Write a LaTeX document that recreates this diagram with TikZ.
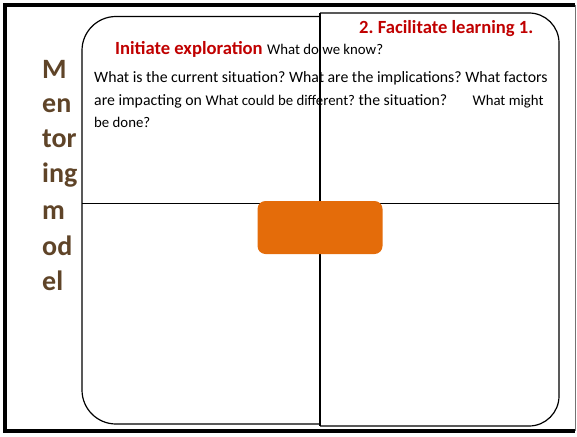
\documentclass[tikz,border=0pt]{standalone}
\usepackage{fontspec}
\setmainfont{Carlito}
\frenchspacing
\definecolor{titlered}{HTML}{C00000}
\definecolor{modelbrown}{HTML}{5F4428}
\definecolor{hub}{HTML}{E46C0A}
\begin{document}
\begin{tikzpicture}[x=1pt,y=-1pt,
  panel/.style={draw=black, line width=1.2pt},
  heading/.style={text=titlered, font=\fontsize{18.6}{21}\selectfont\bfseries, inner sep=0pt, anchor=base west},
  body/.style={font=\fontsize{15.8}{18}\selectfont, inner sep=0pt, anchor=base west},
  small/.style={font=\fontsize{14.8}{17}\selectfont, inner sep=0pt, anchor=base west},
  vword/.style={text=modelbrown, font=\fontsize{28}{30}\selectfont\bfseries, inner sep=0pt, anchor=base west}]
  \useasboundingbox (0,0) rectangle (577,436);
  % page frame
  \draw[line width=4pt] (575,5) -- (5,5) -- (5,431) -- (575,431);
  \draw[line width=0.6pt, black!55] (575,5) -- (575,431);
  % left panel (rounded on the left)
  \draw[panel, rounded corners=34pt] (320,16.5) -- (82,16.5) -- (82,424) -- (320,424);
  % right panel (rounded on the right)
  \draw[panel, rounded corners=30pt] (320,13) -- (559,13) -- (559,426) -- (320,426);
  \draw[panel] (320,13) -- (320,426);
  % cross line
  \draw[panel] (82,203.5) coordinate (hl) -- (559,203.5) coordinate (hr);
  % centre block
  \node[fill=hub, rounded corners=8pt, minimum width=125pt, minimum height=53pt, inner sep=0pt] (hubbox) at (320,227.5) {};
  % vertical label
  \node[vword] (w1) at (42,78) {M};
  \node[vword] (w2) at (42,112) {en};
  \node[vword] (w3) at (42,147) {tor};
  \node[vword] (w4) at (42,182) {ing};
  \node[vword] (w5) at (42,219) {m};
  \node[vword] (w6) at (42,255) {od};
  \node[vword] (w7) at (42,290) {el};
  % headings
  \node[heading] (t1) at (115,54) {Initiate exploration};
  \node[small] (t1q) at (267,54) {What do we know?};
  \node[heading] (t2) at (359,34) {2. Facilitate learning 1.};
  % questions
  \node[body] (q1) at (94,82) {What is the current situation? What are the implications? What factors};
  \node[body] (q2) at (94,105) {are impacting on {\fontsize{14.8}{17}\selectfont What could be different?} the situation?\hspace{1.6em}{\fontsize{14.8}{17}\selectfont What might}};
  \node[small] (q3) at (94,127) {be done?};
\end{tikzpicture}
\end{document}
